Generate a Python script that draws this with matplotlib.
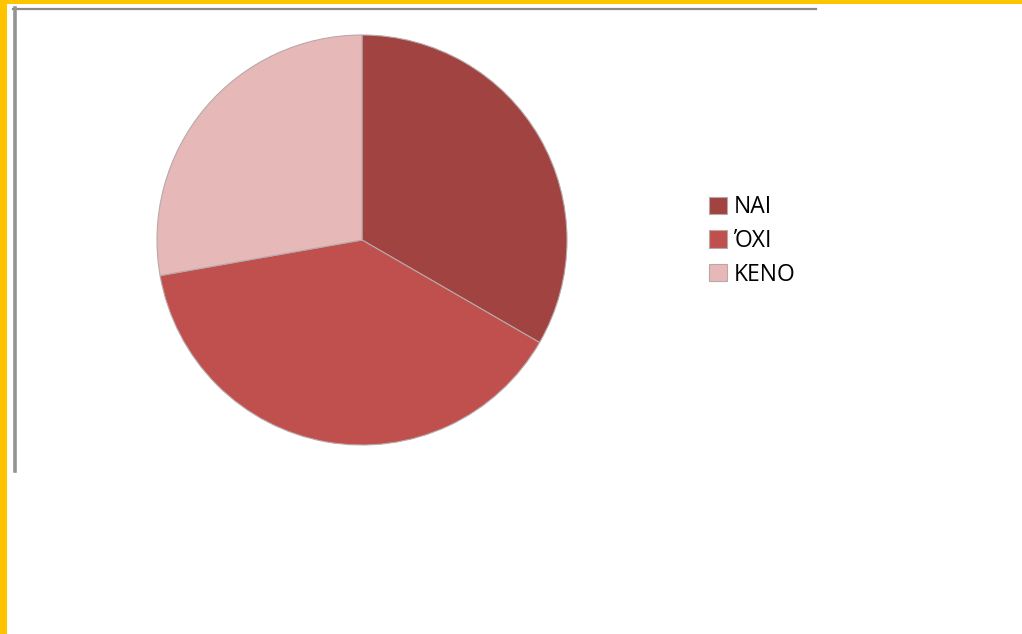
import matplotlib.pyplot as plt
from matplotlib.patches import Rectangle
from matplotlib.lines import Line2D

# survey answers
labels = ['ΝΑΙ', 'ΌΧΙ', 'ΚΕΝΟ']
counts = [12, 14, 10]
colors = ['#A04341', '#C0504D', '#E6B9B8']

W, H = 1022, 634
fig = plt.figure(figsize=(W / 100, H / 100), dpi=100)
fig.patch.set_facecolor('white')

# yellow slide border (left and top)
fig.patches.append(Rectangle((0, 0), 7 / W, 1, transform=fig.transFigure,
                             facecolor='#FFC400', edgecolor='none', zorder=0))
fig.patches.append(Rectangle((0, 1 - 4 / H), 1, 4 / H, transform=fig.transFigure,
                             facecolor='#FFC400', edgecolor='none', zorder=0))

# grey chart frame
fig.lines.append(Line2D([13 / W, 816 / W], [1 - 8.5 / H, 1 - 8.5 / H],
                        transform=fig.transFigure, color='#8a8a8a', lw=1.6))
fig.lines.append(Line2D([15 / W, 15 / W], [1 - 8 / H, 1 - 471 / H],
                        transform=fig.transFigure, color='#949494', lw=2.6))

# pie centred at (362, 240) px with radius 205 px
cx, cy, r = 362, 240, 205
ax = fig.add_axes([(cx - r) / W, (H - cy - r) / H, 2 * r / W, 2 * r / H])
wedges, _ = ax.pie(counts, colors=colors, startangle=90, counterclock=False,
                   radius=1.0, wedgeprops=dict(edgecolor='#b8a8a8', linewidth=0.8))
ax.set_xlim(-1, 1)
ax.set_ylim(-1, 1)
ax.set_aspect('equal')
ax.axis('off')

fig.legend(wedges, labels, loc='center left',
           bbox_to_anchor=(709 / W, 1 - 241 / H), frameon=False,
           prop={'family': 'Open Sans', 'size': 16.5},
           handlelength=0.8, handleheight=0.8, handletextpad=0.3,
           labelspacing=0.42, borderpad=0, borderaxespad=0)

fig.savefig('out.png', dpi=100)
